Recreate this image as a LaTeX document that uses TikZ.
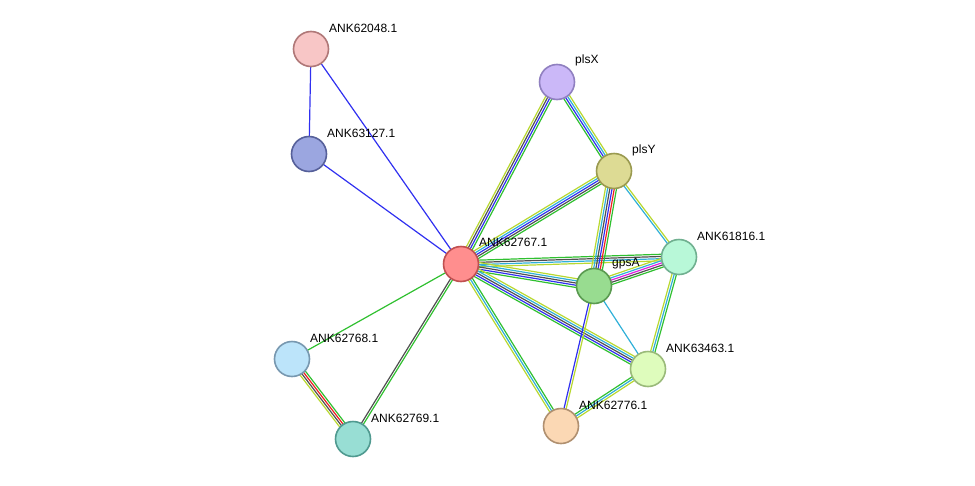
\documentclass[tikz,border=0pt]{standalone}
\usepackage{fontspec}
\setmainfont{Liberation Sans}
\usetikzlibrary{positioning,calc,backgrounds}
\definecolor{eblue}{HTML}{3030F0}
\definecolor{egreen}{HTML}{30C030}
\definecolor{edark}{HTML}{505050}
\definecolor{ecyan}{HTML}{30B0D8}
\definecolor{eyellow}{HTML}{B8D830}
\definecolor{ered}{HTML}{F02020}
\definecolor{emag}{HTML}{E020E0}
\newcommand\sedge[4]{%
  \foreach \c [count=\i] in {#4}{%
    \pgfmathsetmacro\off{(\i-(#3+1)/2)*2.2}
    \draw[\c,line width=1.2pt] ($(#1.center)!\off pt!90:(#2.center)$) -- ($(#2.center)!\off pt!-90:(#1.center)$);
  }}
\begin{document}
\begin{tikzpicture}[x=1pt,y=-1pt,
    prot/.style={circle,draw,line width=1.6pt,minimum size=35pt,inner sep=0pt},
    lab/.style={font=\fontsize{12}{14}\selectfont,anchor=west,inner sep=1pt}]
  \useasboundingbox (0,0) rectangle (975,485);
  \node[prot,fill={rgb,255:red,248;green,198;blue,198},draw={rgb,255:red,176;green,120;blue,120}] (n62048) at (311,49) {};
  \node[prot,fill={rgb,255:red,155;green,166;blue,224},draw={rgb,255:red,86;green,96;blue,154}] (n63127) at (309,154) {};
  \node[prot,fill={rgb,255:red,255;green,142;blue,142},draw={rgb,255:red,192;green,80;blue,80}] (n62767) at (461,264) {};
  \node[prot,fill={rgb,255:red,203;green,184;blue,248},draw={rgb,255:red,144;green,128;blue,192}] (plsX) at (557,82) {};
  \node[prot,fill={rgb,255:red,221;green,219;blue,148},draw={rgb,255:red,154;green,154;blue,80}] (plsY) at (614,171) {};
  \node[prot,fill={rgb,255:red,184;green,248;blue,216},draw={rgb,255:red,112;green,176;blue,144}] (n61816) at (679,257) {};
  \node[prot,fill={rgb,255:red,152;green,220;blue,144},draw={rgb,255:red,90;green,154;blue,80}] (gpsA) at (594,286) {};
  \node[prot,fill={rgb,255:red,222;green,252;blue,188},draw={rgb,255:red,154;green,186;blue,122}] (n63463) at (648,369) {};
  \node[prot,fill={rgb,255:red,251;green,216;blue,180},draw={rgb,255:red,176;green,144;blue,112}] (n62776) at (561,426) {};
  \node[prot,fill={rgb,255:red,188;green,228;blue,250},draw={rgb,255:red,120;green,152;blue,176}] (n62768) at (292,359) {};
  \node[prot,fill={rgb,255:red,152;green,222;blue,212},draw={rgb,255:red,80;green,154;blue,144}] (n62769) at (353,439) {};
  % labels
  \node[lab] at ($(n62048)+(17,-21)$) {ANK62048.1};
  \node[lab] at ($(n63127)+(17,-21)$) {ANK63127.1};
  \node[lab] at ($(n62767)+(17,-22)$) {ANK62767.1};
  \node[lab] at ($(plsX)+(17,-22)$) {plsX};
  \node[lab] at ($(plsY)+(17,-21)$) {plsY};
  \node[lab] at ($(n61816)+(17,-21)$) {ANK61816.1};
  \node[lab] at ($(gpsA)+(17,-22)$) {gpsA};
  \node[lab] at ($(n63463)+(17,-21)$) {ANK63463.1};
  \node[lab] at ($(n62776)+(17,-21)$) {ANK62776.1};
  \node[lab] at ($(n62768)+(17,-21)$) {ANK62768.1};
  \node[lab] at ($(n62769)+(17,-21)$) {ANK62769.1};
  \begin{scope}[on background layer]
    \sedge{n62048}{n63127}{1}{eblue}
    \sedge{n62048}{n62767}{1}{eblue}
    \sedge{n63127}{n62767}{1}{eblue}
    \sedge{n62767}{plsX}{4}{egreen,eblue,edark,eyellow}
    \sedge{n62767}{plsY}{5}{egreen,edark,eblue,ecyan,eyellow}
    \sedge{n62767}{n61816}{4}{eyellow,ecyan,edark,egreen}
    \sedge{n62767}{gpsA}{5}{egreen,eblue,edark,ecyan,eyellow}
    \sedge{n62767}{n63463}{5}{egreen,eblue,edark,ecyan,eyellow}
    \sedge{n62767}{n62776}{3}{eyellow,ecyan,egreen}
    \sedge{n62767}{n62768}{1}{egreen}
    \sedge{n62767}{n62769}{2}{edark,egreen}
    \sedge{plsX}{plsY}{4}{egreen,eblue,ecyan,eyellow}
    \sedge{plsY}{gpsA}{6}{eyellow,ecyan,edark,eblue,ered,egreen}
    \sedge{plsY}{n61816}{2}{ecyan,eyellow}
    \sedge{gpsA}{n61816}{5}{egreen,edark,emag,ecyan,eyellow}
    \sedge{gpsA}{n63463}{1}{ecyan}
    \sedge{gpsA}{n62776}{2}{eblue,eyellow}
    \sedge{n61816}{n63463}{3}{eyellow,ecyan,egreen}
    \sedge{n63463}{n62776}{3}{egreen,ecyan,eyellow}
    \sedge{n62768}{n62769}{4}{eyellow,edark,ered,egreen}
  \end{scope}
\end{tikzpicture}
\end{document}
